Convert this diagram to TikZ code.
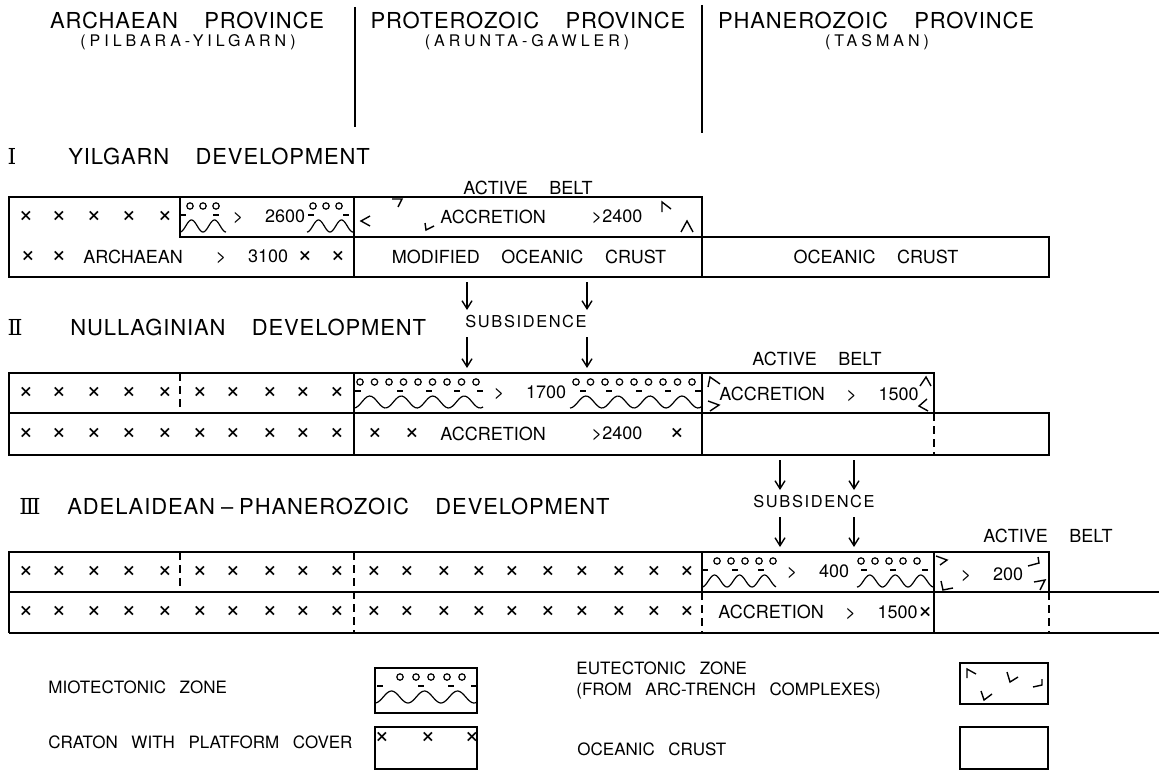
\documentclass[tikz,border=0pt]{standalone}
\usepackage{fontspec}
\setmainfont{TeX Gyre Heros}
\newfontfamily\titelschrift{TeX Gyre Heros}[LetterSpace=4]
\newfontfamily\kleinschrift{TeX Gyre Heros}[LetterSpace=25]
\newfontfamily\sperrschrift{TeX Gyre Heros}[LetterSpace=10]
\newfontfamily\roemisch{DejaVu Serif}
\usetikzlibrary{arrows.meta}

% miotektonische Zone: x links, x rechts, y oben, Kreise, Striche, Periode
\newcommand{\miotekt}[6]{%
  \foreach \k in {#4} \draw[duenn] (\k,#3+9) circle[radius=3.2];
  \foreach \k in {#5} \draw[duenn] (\k,#3+18) -- ++(6,0);
  \draw[duenn] plot[domain=#1:#2,samples=60,smooth] (\x,{#3+29+6*cos((\x-#1)/#6*360)});
}

\begin{document}
\begin{tikzpicture}[x=0.5pt,y=-0.5pt]
\tikzset{kasten/.style={line width=0.9pt},
  gestrichelt/.style={line width=0.9pt,dash pattern=on 4pt off 2.5pt},
  duenn/.style={line width=0.6pt},
  zeichen/.style={line width=0.7pt},
  pfeil/.style={line width=0.7pt,-{Straight Barb[length=4pt,width=5pt]}},
  titel/.style={inner sep=0pt,font={\titelschrift\fontsize{11}{13}\selectfont\spaceskip=1.2em\relax}},
  roem/.style={inner sep=0pt,font={\roemisch\fontsize{11}{13}\selectfont}},
  klein/.style={inner sep=0pt,font={\kleinschrift\fontsize{8}{9}\selectfont}},
  beschrift/.style={inner sep=0pt,font={\fontsize{9}{11}\selectfont\spaceskip=1.2em\relax}},
  sperr/.style={inner sep=0pt,font={\sperrschrift\fontsize{8.2}{10}\selectfont}},
  legende/.style={inner sep=0pt,anchor=west,font={\fontsize{8.5}{10}\selectfont\spaceskip=0.8em\relax}},
  kreuz/.style={inner sep=0pt,font={\fontsize{13}{15}\selectfont}}}
\useasboundingbox (0,0) rectangle (1159,770);

% Provinzen
\node[titel] (archaikum) at (187,20) {ARCHAEAN PROVINCE};
\node[klein] (pilbara) at (188,42) {(PILBARA-YILGARN)};
\node[titel] (proterozoikum) at (528,20) {PROTEROZOIC PROVINCE};
\node[klein] (arunta) at (527,42) {(ARUNTA-GAWLER)};
\node[titel] (phanerozoikum) at (876,20) {PHANEROZOIC PROVINCE};
\node[klein] (tasman) at (877,42) {(TASMAN)};
\draw[kasten] (355,7) -- (355,127);
\draw[kasten] (702,5) -- (702,133);

% I
\node[roem] (eins) at (12,156) {Ⅰ};
\node[titel,anchor=west] (yilgarn) at (68,156) {YILGARN DEVELOPMENT};
\node[beschrift] (aktivI) at (528,188) {ACTIVE BELT};
\draw[kasten] (9,197) rectangle (354,277);
\draw[kasten] (180,197) rectangle (354,237);
\draw[kasten] (354,197) rectangle (702,237);
\draw[kasten] (354,237) rectangle (702,277);
\draw[kasten] (702,237) rectangle (1049,277);
\foreach \x in {26,59,94,129,165} \node[kreuz] (kIa-\x) at (\x,217) {×};
\miotekt{180}{226}{197}{190,203,216}{180,213}{23}
\node[beschrift] (z2600) at (269,217) {> 2600};
\miotekt{307}{354}{197}{313,326,339}{308,343}{23}
\draw[zeichen] (370,216) -- (361,221) -- (370,226);
\draw[zeichen] (392,199) -- (402,199) -- (398,207);
\draw[zeichen] (425,223) -- (426,230) -- (434,226);
\node[beschrift,anchor=west] (akkrI) at (440,217) {ACCRETION};
\node[beschrift] (z2400) at (617,217) {>2400};
\draw[zeichen] (662,212) -- (662,202) -- (671,209);
\draw[zeichen] (681,232) -- (687,221) -- (693,232);
\foreach \x in {28,59,305,338} \node[kreuz] (kIb-\x) at (\x,257) {×};
\node[beschrift,anchor=west] (archaean) at (83,257) {ARCHAEAN};
\node[beschrift] (z3100) at (252,257) {> 3100};
\node[beschrift] (modkruste) at (529,257) {MODIFIED OCEANIC CRUST};
\node[beschrift] (ozkruste) at (876,257) {OCEANIC CRUST};

% Absenkung I-II
\coordinate (a1) at (467,282); \coordinate (a2) at (467,310);
\coordinate (b1) at (587,282); \coordinate (b2) at (587,310);
\node[sperr] (absenkI) at (526,322) {SUBSIDENCE};
\coordinate (c1) at (467,337); \coordinate (c2) at (467,368);
\coordinate (d1) at (587,337); \coordinate (d2) at (587,368);
\draw[pfeil] (a1) -- (a2);
\draw[pfeil] (b1) -- (b2);
\draw[pfeil] (c1) -- (c2);
\draw[pfeil] (d1) -- (d2);

% II
\node[roem] (zwei) at (15,327) {Ⅱ};
\node[titel,anchor=west] (nullagin) at (70,327) {NULLAGINIAN DEVELOPMENT};
\node[beschrift] (aktivII) at (817,359) {ACTIVE BELT};
\draw[kasten] (9,373) rectangle (354,455);
\draw[kasten] (9,413) -- (354,413);
\draw[gestrichelt] (180,373) -- (180,413);
\draw[kasten] (354,373) rectangle (702,413);
\draw[kasten] (702,373) rectangle (934,413);
\draw[kasten] (354,413) rectangle (702,455);
\draw[kasten] (702,413) rectangle (1049,455);
\draw[gestrichelt] (934,413) -- (934,455);
\foreach \x in {26,59,94,129,165,200,233,270,303,337} \node[kreuz] (kIIa-\x) at (\x,393) {×};
\foreach \x in {26,59,94,129,165,200,233,270,303,337} \node[kreuz] (kIIb-\x) at (\x,434) {×};
\miotekt{354}{483}{373}{360,374.5,389,403.5,418,432.5,447,461.5,476}{355,397,426,454,477}{31.5}
\node[beschrift] (z1700) at (530,393) {> 1700};
\miotekt{570}{702}{373}{576,590.5,605,619.5,634,648.5,663,677.5,692}{580,606,636,665,695}{32}
\draw[zeichen] (708,387) -- (710,377) -- (720,384);
\draw[zeichen] (708,401) -- (719,405) -- (710,411);
\node[beschrift] (akkrII) at (819,394) {ACCRETION > 1500};
\draw[zeichen] (920,386) -- (926,377) -- (931,386);
\draw[zeichen] (927,399) -- (919,406) -- (928,411);
\foreach \x in {375,412,677} \node[kreuz] (kIIc-\x) at (\x,434) {×};
\node[beschrift,anchor=west] (akkrIIb) at (440,434) {ACCRETION};
\node[beschrift] (z2400b) at (617,434) {>2400};

% Absenkung II-III
\coordinate (e1) at (780,460); \coordinate (e2) at (780,490);
\coordinate (f1) at (854,460); \coordinate (f2) at (854,490);
\node[sperr] (absenkII) at (814,502) {SUBSIDENCE};
\coordinate (g1) at (780,517); \coordinate (g2) at (780,547);
\coordinate (h1) at (854,517); \coordinate (h2) at (854,547);
\draw[pfeil] (e1) -- (e2);
\draw[pfeil] (f1) -- (f2);
\draw[pfeil] (g1) -- (g2);
\draw[pfeil] (h1) -- (h2);

% III
\node[roem] (drei) at (30,506) {Ⅲ};
\node[titel,anchor=west] (adelaide) at (67,506) {ADELAIDEAN\kern3pt–\kern3pt PHANEROZOIC DEVELOPMENT};
\node[beschrift] (aktivIII) at (1048,536) {ACTIVE BELT};
\draw[kasten] (9,633) -- (9,552) -- (1049,552) -- (1049,592);
\draw[kasten] (9,592) -- (1159,592);
\draw[kasten] (9,633) -- (1159,633);
\draw[kasten] (702,552) -- (702,592);
\draw[kasten] (934,552) -- (934,633);
\draw[gestrichelt] (180,552) -- (180,592);
\draw[gestrichelt] (354,552) -- (354,633);
\draw[gestrichelt] (702,592) -- (702,633);
\draw[gestrichelt] (1049,592) -- (1049,633);
\foreach \x in {26,59,94,129,165,200,233,270,303,337,374,407,444,479,512,548,582,619,654,687}
  {\node[kreuz] (kIIIa-\x) at (\x,572) {×};
   \node[kreuz] (kIIIb-\x) at (\x,612) {×};}
\miotekt{702}{776}{552}{717,731,745,759,773}{702,732,758}{25}
\node[beschrift] (z400) at (818,572) {> 400};
\miotekt{857}{934}{552}{861,875,889,903,917}{861,890,922}{25.5}
\draw[zeichen] (936,556) -- (947,560) -- (940,565);
\draw[zeichen] (941,581) -- (943,590) -- (953,588);
\node[beschrift] (z200) at (992,575) {> 200};
\draw[zeichen] (1028,566) -- (1039,563) -- (1038,557);
\draw[zeichen] (1034,582) -- (1045,580) -- (1040,590);
\node[beschrift,anchor=west] (akkrIII) at (718,612) {ACCRETION > 1500{\fontsize{13}{15}\selectfont ×}};

% Legende
\node[legende] (lmio) at (48,687) {MIOTECTONIC ZONE};
\draw[kasten] (375,668) rectangle (477,713);
\miotekt{375}{477}{668}{400,416,431,447,462}{377,418,448,471}{33}
\node[legende] (lkraton) at (48,742) {CRATON WITH PLATFORM COVER};
\draw[kasten] (375,727) rectangle (477,769);
\foreach \x in {382,428,472} \node[kreuz] (kL-\x) at (\x,738) {×};
\node[legende] (leu) at (576,668) {EUTECTONIC ZONE};
\node[legende] (leu2) at (576,691) {(FROM ARC-TRENCH COMPLEXES)};
\draw[kasten] (960,663) rectangle (1048,704);
\draw[zeichen] (967,678) -- (967,669) -- (976,674);
\draw[zeichen] (1007,672) -- (1010,682) -- (1018,677);
\draw[zeichen] (1033,687) -- (1042,685) -- (1042,679);
\draw[zeichen] (981,691) -- (984,700) -- (992,694);
\node[legende] (lozean) at (577,749) {OCEANIC CRUST};
\draw[kasten] (960,727) rectangle (1048,769);
\end{tikzpicture}
\end{document}
